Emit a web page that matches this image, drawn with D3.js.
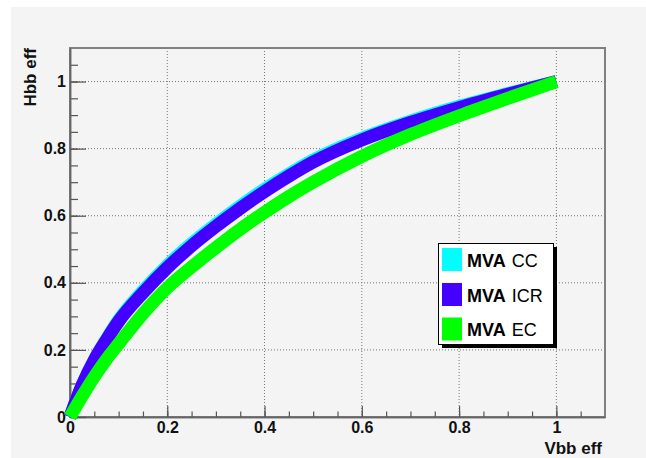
<!DOCTYPE html>
<html><head><meta charset="utf-8">
<script src="https://cdn.jsdelivr.net/npm/d3@7"></script>
<style>
html,body{margin:0;padding:0;background:#fff;}
svg{display:block;font-family:"Liberation Sans",Arial,Helvetica,sans-serif;}
</style></head>
<body><svg id="c" width="646" height="458"></svg>
<script>
// ---- data ----
const vbbEff = [0, 0.025, 0.05, 0.075, 0.1, 0.15, 0.2, 0.25, 0.3, 0.35, 0.4, 0.45, 0.5, 0.6, 0.7, 0.8, 0.9, 1.0];
const hbbCC  = [0, 0.095, 0.17, 0.232, 0.289, 0.376, 0.452, 0.517, 0.575, 0.629, 0.679, 0.724, 0.766, 0.831, 0.882, 0.926, 0.964, 1.0];
const hbbICR = [0, 0.095, 0.17, 0.230, 0.285, 0.370, 0.445, 0.510, 0.568, 0.622, 0.672, 0.718, 0.760, 0.826, 0.878, 0.922, 0.962, 1.0];
const hbbEC  = [0, 0.062, 0.12, 0.172, 0.218, 0.308, 0.385, 0.447, 0.505, 0.560, 0.610, 0.657, 0.700, 0.777, 0.842, 0.898, 0.950, 1.0];
const seriesNames = ["CC", "ICR", "EC"];
const seriesColors = ["#00ffff", "#4400ff", "#00ff00"];
const majorTicks = [0, 0.2, 0.4, 0.6, 0.8, 1];
const minorTicks = d3.range(0, 22).map(i => i * 0.05);
const xTitle = "Vbb eff", yTitle = "Hbb eff";

const svg = d3.select("#c");
svg.append("rect").attr("x", 11).attr("y", 7).attr("width", 646).attr("height", 458).attr("fill", "#f4f4f4");

const L = 70, R = 605, T = 48, B = 417;
const x = d3.scaleLinear().domain([0, 1.1]).range([L, R]);
const y = d3.scaleLinear().domain([0, 1.1]).range([B, T]);

// grid
const g = svg.append("g");
g.selectAll(".gx").data(majorTicks.filter(d => d > 0)).join("line")
  .attr("x1", d => x(d)).attr("x2", d => x(d)).attr("y1", T).attr("y2", B)
  .attr("stroke", "#777").attr("stroke-width", 1).attr("stroke-dasharray", "1,2");
g.selectAll(".gy").data(majorTicks.filter(d => d > 0)).join("line")
  .attr("y1", d => y(d)).attr("y2", d => y(d)).attr("x1", L).attr("x2", R)
  .attr("stroke", "#777").attr("stroke-width", 1).attr("stroke-dasharray", "1,2");

// frame
svg.append("rect").attr("x", L).attr("y", T).attr("width", R - L).attr("height", B - T)
  .attr("fill", "none").attr("stroke", "#808080").attr("stroke-width", 2);

// axes
const fmt = d => d === 0 ? "0" : (d === 1 ? "1" : d3.format(".1f")(d));
const xMinor = svg.append("g").attr("transform", `translate(0,${B})`)
  .call(d3.axisBottom(x).tickValues(minorTicks.filter(d => d <= 1.06)).tickSizeInner(-5.5).tickSizeOuter(0).tickFormat(""));
const xMajor = svg.append("g").attr("transform", `translate(0,${B})`)
  .call(d3.axisBottom(x).tickValues(majorTicks).tickSizeInner(-11).tickSizeOuter(0).tickPadding(5).tickFormat(fmt));
const yMinor = svg.append("g").attr("transform", `translate(${L},0)`)
  .call(d3.axisLeft(y).tickValues(minorTicks.filter(d => d <= 1.06)).tickSizeInner(-8).tickSizeOuter(0).tickFormat(""));
const yMajor = svg.append("g").attr("transform", `translate(${L},0)`)
  .call(d3.axisLeft(y).tickValues(majorTicks).tickSizeInner(-16).tickSizeOuter(0).tickPadding(4).tickFormat(fmt));
[xMinor, xMajor, yMinor, yMajor].forEach(a => {
  a.select(".domain").attr("stroke", "#666").attr("stroke-width", 1.5);
  a.selectAll(".tick line").attr("stroke", "#555").attr("stroke-width", 1.2);
  a.selectAll("text").attr("font-size", 16).attr("font-weight", "bold").attr("fill", "#111")
   .attr("font-family", "'Liberation Sans',Arial,sans-serif");
});

// axis titles
svg.append("text").attr("x", 602).attr("y", 454).attr("text-anchor", "end")
  .attr("font-size", 17).attr("font-weight", "bold").attr("fill", "#111").text(xTitle);
svg.append("text").attr("transform", "translate(36,48) rotate(-90)").attr("text-anchor", "end")
  .attr("font-size", 17).attr("font-weight", "bold").attr("fill", "#111").text(yTitle);

// curves
const series = [hbbCC, hbbICR, hbbEC];
const line = d3.line().x((d, i) => x(vbbEff[i])).y(d => y(d)).curve(d3.curveMonotoneX);
const cg = svg.append("g");
series.forEach((s, k) => {
  cg.append("path").datum(s).attr("d", line)
    .attr("fill", "none").attr("stroke", seriesColors[k]).attr("stroke-width", 13)
    .attr("stroke-linecap", "butt").attr("stroke-linejoin", "round");
});

// legend
const lg = svg.append("g");
lg.append("rect").attr("x", 442).attr("y", 247).attr("width", 115).attr("height", 101).attr("fill", "#000");
lg.append("rect").attr("x", 438.5).attr("y", 243.5).attr("width", 115).attr("height", 101)
  .attr("fill", "#fff").attr("stroke", "#000").attr("stroke-width", 1);
const baselines = [266.5, 301.5, 336];
seriesNames.forEach((n, k) => {
  lg.append("rect").attr("x", 442).attr("y", baselines[k] - 18.5).attr("width", 20).attr("height", 23)
    .attr("fill", seriesColors[k]);
  const t = lg.append("text").attr("x", 467).attr("y", baselines[k]).attr("font-size", 18).attr("fill", "#000");
  t.append("tspan").attr("font-weight", "bold").text("MVA");
  t.append("tspan").attr("dx", 6).text(n);
});
</script></body></html>
